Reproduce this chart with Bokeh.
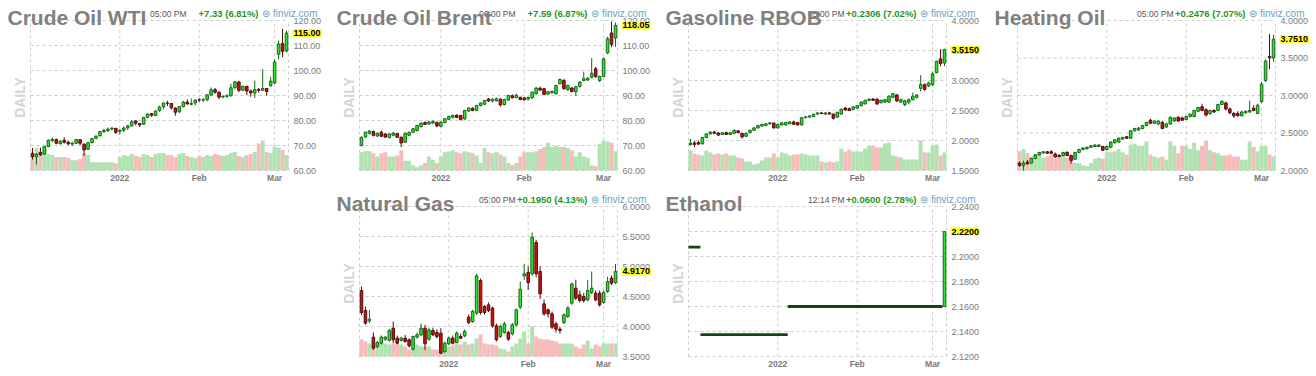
import math
import pandas as pd
from bokeh.plotting import figure
from bokeh.layouts import row, column, Spacer
from bokeh.models import Range1d, FixedTicker, NumeralTickFormatter, Label, ColumnDataSource
from bokeh.embed import file_html
from bokeh.resources import INLINE

# ---------------- dates (trading days) ----------------
nymex_dates = [d for d in pd.bdate_range("2021-12-01", "2022-03-04")
               if d.strftime("%Y-%m-%d") not in ("2021-12-24", "2022-01-17", "2022-02-21")]
ice_dates = [d for d in pd.bdate_range("2021-12-02", "2022-03-04")
             if d.strftime("%Y-%m-%d") not in ("2021-12-27", "2021-12-28")]

# ---------------- Crude Oil WTI ----------------
wti_open = [66.9, 65.5, 67.3, 66.6, 69.6, 72.0, 72.4, 70.8, 72.1, 71.3,
            70.6, 70.9, 72.3, 70.5, 68.5, 71.2, 72.9, 73.9, 75.6, 76.0,
            76.6, 76.9, 75.7, 76.1, 77.1, 77.9, 79.8, 78.8, 78.5, 81.3,
            82.7, 82.0, 84.0, 85.5, 87.0, 86.8, 85.0, 83.5, 85.6, 87.4,
            86.5, 87.0, 88.3, 88.2, 88.3, 90.2, 92.3, 91.3, 89.4, 89.7,
            89.9, 93.2, 95.4, 92.1, 93.6, 91.8, 91.0, 92.4, 92.1, 92.8,
            94.0, 95.0, 106.5, 110.8, 107.8]
wti_high = [69.0, 67.0, 69.2, 69.8, 72.4, 73.2, 72.8, 72.2, 73.3, 72.0,
            71.6, 72.6, 72.6, 70.9, 71.5, 73.0, 73.9, 75.8, 76.7, 77.2,
            77.3, 77.0, 76.5, 77.6, 78.2, 80.2, 80.1, 79.0, 81.5, 82.8,
            83.0, 84.0, 86.0, 87.1, 87.9, 86.9, 85.2, 85.8, 87.9, 88.5,
            88.8, 88.5, 88.9, 89.0, 90.4, 93.2, 93.0, 91.7, 90.0, 90.5,
            94.7, 95.8, 95.9, 94.0, 94.0, 92.4, 96.0, 93.0, 100.5, 93.0,
            97.5, 104.5, 112.0, 116.6, 116.0]
wti_low = [64.4, 62.4, 65.8, 66.2, 69.3, 71.3, 70.5, 70.3, 70.8, 70.1,
           69.8, 70.6, 70.2, 65.8, 68.2, 70.8, 72.5, 73.6, 75.0, 75.4,
           76.0, 74.7, 74.3, 75.4, 76.2, 77.6, 78.1, 77.4, 78.3, 80.9,
           81.5, 81.8, 83.5, 84.5, 85.8, 84.4, 81.9, 83.0, 85.2, 86.5,
           86.0, 86.0, 87.4, 87.4, 87.7, 89.9, 90.7, 88.5, 88.9, 89.0,
           89.6, 92.5, 91.3, 91.8, 90.2, 89.5, 89.0, 91.2, 92.0, 90.0,
           93.5, 94.6, 104.5, 105.4, 107.2]
wti_close = [65.6, 66.5, 66.3, 69.5, 72.1, 72.4, 70.9, 71.7, 71.3, 70.7,
             70.9, 72.4, 70.9, 68.2, 71.1, 72.8, 73.8, 75.6, 76.0, 76.6,
             77.0, 75.2, 76.1, 77.0, 77.9, 79.5, 78.9, 78.2, 81.2, 82.6,
             82.1, 83.8, 85.4, 87.0, 86.9, 85.1, 83.3, 85.6, 87.35, 86.6,
             86.8, 88.15, 88.2, 88.26, 90.27, 92.31, 91.32, 89.36, 89.66, 89.88,
             93.10, 95.46, 92.07, 93.66, 91.76, 91.07, 92.35, 92.10, 92.81, 91.59,
             95.72, 103.41, 110.60, 107.67, 115.00]
wti_vol = [300, 440, 360, 500, 320, 300, 260, 260, 260, 240,
           200, 200, 220, 340, 300, 160, 160, 160, 160, 160,
           160, 140, 260, 300, 280, 320, 280, 260, 320, 300,
           260, 320, 340, 340, 300, 300, 260, 320, 340, 280,
           260, 240, 280, 260, 300, 280, 320, 300, 280, 300,
           340, 360, 280, 260, 300, 320, 360, 520, 580, 360,
           340, 460, 440, 400, 300]

# ---------------- Crude Oil Brent ----------------
brent_open = [70.0, 73.5, 74.9, 75.6, 73.8, 75.3, 74.6, 73.2, 74.1, 74.8,
              73.3, 71.3, 74.1, 75.3, 76.0, 77.6, 79.2, 78.6, 79.0, 79.2,
              77.7, 79.2, 80.5, 81.3, 82.1, 82.0, 80.6, 83.8, 84.9, 84.1,
              86.0, 86.5, 88.6, 87.8, 87.9, 88.5, 86.4, 88.2, 89.9, 89.2,
              89.3, 89.0, 88.6, 89.1, 90.7, 92.9, 92.7, 90.6, 91.1, 90.7,
              94.7, 96.0, 92.4, 93.0, 91.5, 93.6, 96.0, 96.2, 97.3, 100.7,
              96.0, 97.6, 107.0, 115.0, 113.0]
brent_high = [73.6, 75.6, 76.2, 76.0, 75.2, 76.0, 75.0, 75.0, 75.4, 75.1,
              73.6, 75.2, 75.6, 77.0, 78.3, 79.3, 79.6, 79.9, 80.0, 79.6,
              79.8, 81.0, 82.0, 82.4, 82.5, 82.3, 84.3, 85.2, 85.3, 86.3,
              87.2, 88.3, 89.0, 88.9, 89.2, 88.9, 88.7, 90.3, 90.4, 90.8,
              89.5, 89.4, 89.6, 91.6, 93.4, 93.6, 93.0, 91.8, 92.0, 94.3,
              96.8, 96.7, 94.4, 93.4, 93.8, 95.8, 99.5, 97.4, 105.0, 101.4,
              98.0, 105.2, 113.5, 119.6, 119.2]
brent_low = [69.6, 73.0, 74.4, 73.6, 73.4, 73.4, 73.0, 72.8, 73.7, 73.0,
             69.3, 71.0, 73.8, 75.0, 75.6, 77.2, 78.2, 78.3, 78.6, 77.3,
             77.3, 78.8, 80.2, 80.8, 80.9, 80.0, 80.3, 83.4, 83.7, 83.9,
             85.6, 86.2, 87.5, 87.2, 87.6, 85.6, 86.0, 87.9, 88.8, 88.9,
             88.1, 88.0, 88.0, 88.6, 90.4, 91.9, 90.1, 90.3, 90.8, 90.4,
             94.4, 92.3, 91.8, 91.2, 89.8, 93.2, 95.7, 95.8, 96.8, 97.0,
             95.4, 97.3, 106.5, 109.3, 109.5]
brent_close = [73.3, 75.3, 75.8, 74.1, 74.9, 73.7, 73.4, 74.6, 75.0, 73.3,
               71.0, 74.9, 75.3, 76.7, 78.0, 78.9, 78.4, 79.4, 79.6, 77.8,
               79.3, 80.7, 81.6, 82.0, 81.2, 80.4, 84.0, 85.0, 84.0, 86.0,
               87.0, 88.0, 87.8, 88.5, 88.7, 86.2, 88.4, 90.0, 89.1, 90.1,
               88.4, 88.3, 89.2, 91.3, 93.0, 92.2, 90.4, 91.5, 91.6, 94.0,
               96.4, 92.7, 94.0, 91.6, 93.5, 95.3, 96.7, 96.9, 98.9, 97.6,
               97.6, 104.7, 112.7, 110.46, 118.05]
brent_vol = [340, 360, 360, 320, 260, 320, 340, 260, 260, 280,
             380, 180, 180, 100, 60, 100, 140, 260, 200, 140,
             260, 340, 360, 380, 340, 320, 360, 340, 320, 280,
             140, 420, 340, 320, 340, 300, 260, 140, 100, 140,
             260, 340, 340, 340, 360, 400, 440, 520, 440, 460,
             440, 440, 420, 380, 260, 340, 260, 240, 100, 80,
             500, 560, 540, 520, 360]

# ---------------- Gasoline RBOB ----------------
gas_open = [1.930, 1.960, 1.965, 1.945, 2.050, 2.110, 2.140, 2.125, 2.100, 2.130,
            2.100, 2.120, 2.160, 2.120, 2.070, 2.130, 2.170, 2.210, 2.240, 2.250,
            2.280, 2.290, 2.210, 2.260, 2.260, 2.280, 2.310, 2.300, 2.260, 2.380,
            2.390, 2.400, 2.440, 2.460, 2.440, 2.460, 2.440, 2.390, 2.440, 2.540,
            2.530, 2.520, 2.540, 2.580, 2.610, 2.670, 2.690, 2.690, 2.630, 2.640,
            2.640, 2.720, 2.760, 2.640, 2.600, 2.640, 2.680, 2.720, 2.870, 2.930,
            2.910, 2.930, 3.130, 3.360, 3.290]
gas_high = [2.030, 1.990, 2.000, 2.060, 2.120, 2.155, 2.160, 2.140, 2.140, 2.150,
            2.140, 2.185, 2.175, 2.130, 2.130, 2.180, 2.220, 2.260, 2.275, 2.290,
            2.300, 2.300, 2.280, 2.300, 2.310, 2.320, 2.330, 2.310, 2.390, 2.400,
            2.420, 2.440, 2.470, 2.470, 2.470, 2.470, 2.450, 2.480, 2.530, 2.560,
            2.550, 2.570, 2.590, 2.650, 2.680, 2.700, 2.710, 2.700, 2.680, 2.690,
            2.750, 2.790, 2.770, 2.700, 2.680, 2.700, 2.800, 2.770, 3.090, 2.950,
            2.980, 3.150, 3.330, 3.520, 3.530]
gas_low = [1.915, 1.890, 1.930, 1.935, 2.040, 2.100, 2.110, 2.080, 2.090, 2.090,
           2.090, 2.110, 2.120, 2.030, 2.060, 2.120, 2.160, 2.200, 2.230, 2.240,
           2.260, 2.200, 2.200, 2.250, 2.250, 2.270, 2.260, 2.250, 2.250, 2.370,
           2.380, 2.390, 2.430, 2.440, 2.430, 2.435, 2.350, 2.380, 2.430, 2.500,
           2.490, 2.510, 2.530, 2.570, 2.600, 2.650, 2.660, 2.590, 2.620, 2.630,
           2.630, 2.710, 2.640, 2.630, 2.570, 2.600, 2.670, 2.700, 2.820, 2.830,
           2.890, 2.910, 3.120, 3.240, 3.240]
gas_close = [1.955, 1.935, 1.940, 2.050, 2.110, 2.140, 2.120, 2.090, 2.130, 2.100,
             2.130, 2.170, 2.130, 2.060, 2.120, 2.170, 2.210, 2.250, 2.270, 2.280,
             2.295, 2.210, 2.270, 2.295, 2.300, 2.310, 2.270, 2.260, 2.380, 2.395,
             2.410, 2.440, 2.460, 2.450, 2.460, 2.440, 2.370, 2.470, 2.520, 2.510,
             2.500, 2.560, 2.580, 2.640, 2.670, 2.690, 2.670, 2.610, 2.670, 2.680,
             2.740, 2.780, 2.660, 2.680, 2.660, 2.680, 2.740, 2.760, 2.930, 2.850,
             2.960, 3.110, 3.320, 3.2844, 3.5150]
gas_vol = [100, 85, 80, 75, 100, 90, 80, 85, 80, 85,
           75, 75, 65, 60, 45, 45, 30, 35, 50, 65,
           65, 85, 65, 90, 85, 75, 80, 80, 85, 80,
           75, 75, 75, 45, 40, 45, 40, 45, 110, 95,
           105, 95, 95, 95, 110, 125, 125, 115, 115, 135,
           140, 75, 70, 65, 55, 55, 55, 55, 150, 90,
           90, 125, 130, 75, 90]

# ---------------- Heating Oil ----------------
ho_open = [2.097, 2.070, 2.110, 2.100, 2.160, 2.210, 2.235, 2.250, 2.250, 2.220,
           2.200, 2.200, 2.240, 2.200, 2.150, 2.240, 2.280, 2.290, 2.310, 2.320,
           2.320, 2.320, 2.280, 2.310, 2.370, 2.380, 2.420, 2.450, 2.430, 2.530,
           2.540, 2.560, 2.600, 2.670, 2.630, 2.620, 2.640, 2.580, 2.620, 2.660,
           2.710, 2.700, 2.680, 2.720, 2.720, 2.790, 2.850, 2.810, 2.760, 2.800,
           2.800, 2.880, 2.900, 2.820, 2.760, 2.760, 2.730, 2.770, 2.780, 2.830,
           2.760, 2.920, 3.200, 3.520, 3.500]
ho_high = [2.120, 2.130, 2.140, 2.170, 2.220, 2.250, 2.260, 2.260, 2.270, 2.240,
           2.220, 2.250, 2.260, 2.210, 2.250, 2.290, 2.310, 2.320, 2.340, 2.350,
           2.350, 2.330, 2.330, 2.390, 2.420, 2.440, 2.450, 2.460, 2.540, 2.570,
           2.580, 2.610, 2.650, 2.690, 2.670, 2.670, 2.660, 2.640, 2.720, 2.710,
           2.720, 2.720, 2.730, 2.760, 2.810, 2.850, 2.890, 2.830, 2.810, 2.820,
           2.890, 2.940, 2.920, 2.840, 2.780, 2.790, 2.800, 2.800, 2.930, 2.870,
           2.890, 3.180, 3.480, 3.820, 3.810]
ho_low = [2.050, 2.000, 2.080, 2.090, 2.150, 2.200, 2.220, 2.220, 2.220, 2.170,
          2.180, 2.190, 2.190, 2.090, 2.140, 2.230, 2.270, 2.280, 2.300, 2.310,
          2.310, 2.260, 2.270, 2.300, 2.360, 2.370, 2.410, 2.420, 2.420, 2.520,
          2.530, 2.550, 2.590, 2.620, 2.620, 2.610, 2.550, 2.570, 2.610, 2.650,
          2.650, 2.660, 2.670, 2.710, 2.710, 2.780, 2.790, 2.720, 2.740, 2.770,
          2.790, 2.870, 2.800, 2.750, 2.700, 2.720, 2.720, 2.760, 2.770, 2.790,
          2.750, 2.900, 3.180, 3.350, 3.450]
ho_close = [2.067, 2.100, 2.090, 2.160, 2.210, 2.240, 2.250, 2.230, 2.230, 2.180,
            2.185, 2.240, 2.200, 2.130, 2.240, 2.280, 2.300, 2.310, 2.330, 2.340,
            2.340, 2.270, 2.320, 2.380, 2.410, 2.430, 2.440, 2.430, 2.530, 2.560,
            2.565, 2.600, 2.640, 2.630, 2.660, 2.660, 2.560, 2.620, 2.710, 2.700,
            2.660, 2.670, 2.720, 2.750, 2.800, 2.840, 2.800, 2.740, 2.800, 2.780,
            2.880, 2.920, 2.820, 2.770, 2.730, 2.730, 2.780, 2.790, 2.800, 2.800,
            2.870, 3.150, 3.460, 3.5034, 3.7510]
ho_vol = [36, 40, 32, 26, 30, 34, 24, 26, 30, 22,
          26, 28, 24, 16, 14, 14, 10, 8, 14, 22,
          24, 22, 34, 34, 36, 40, 34, 30, 48, 50,
          46, 46, 54, 30, 26, 24, 26, 20, 54, 46,
          32, 46, 46, 40, 52, 38, 46, 56, 38, 34,
          32, 28, 28, 30, 26, 26, 20, 20, 54, 44,
          36, 46, 46, 30, 26]

# ---------------- Natural Gas ----------------
ng_open = [4.600, 4.267, 4.094, 3.822, 3.667, 3.722, 3.789, 3.767, 3.972, 3.806,
           3.767, 3.806, 3.778, 3.622, 3.822, 3.861, 3.972, 3.789, 3.933, 3.900,
           3.889, 3.583, 3.711, 3.806, 3.733, 3.833, 3.844, 4.156, 4.083, 4.222,
           4.767, 4.333, 4.361, 4.306, 4.011, 3.833, 3.900, 3.900, 3.878, 4.028,
           4.322, 4.844, 4.900, 4.878, 5.400, 4.917, 4.378, 4.278, 4.211, 4.044,
           3.956, 4.067, 4.167, 4.389, 4.639, 4.528, 4.500, 4.444, 4.567, 4.556,
           4.556, 4.400, 4.583, 4.806, 4.733]
ng_high = [4.667, 4.333, 4.278, 3.900, 3.760, 3.850, 3.840, 3.960, 4.083, 3.850,
           3.830, 3.860, 3.800, 3.850, 3.900, 4.050, 4.028, 3.980, 3.980, 3.950,
           3.972, 3.750, 3.830, 3.850, 3.920, 3.880, 3.950, 4.200, 4.280, 4.878,
           4.800, 4.360, 4.400, 4.330, 4.050, 4.030, 4.080, 3.930, 4.060, 4.300,
           4.750, 5.044, 5.000, 5.567, 5.444, 5.000, 4.450, 4.300, 4.250, 4.080,
           3.990, 4.220, 4.340, 4.730, 4.780, 4.600, 4.560, 4.778, 4.917, 4.600,
           4.600, 4.600, 4.830, 4.850, 5.044]
ng_low = [4.194, 4.028, 4.056, 3.611, 3.640, 3.700, 3.760, 3.750, 3.722, 3.700,
          3.750, 3.730, 3.650, 3.600, 3.800, 3.840, 3.611, 3.760, 3.840, 3.800,
          3.544, 3.560, 3.690, 3.700, 3.720, 3.790, 3.820, 4.040, 4.060, 4.194,
          4.200, 4.200, 4.240, 3.980, 3.750, 3.810, 3.880, 3.760, 3.850, 4.000,
          4.290, 4.778, 4.611, 4.844, 4.822, 4.456, 4.180, 4.150, 3.960, 3.900,
          3.880, 4.040, 4.140, 4.360, 4.440, 4.400, 4.400, 4.420, 4.540, 4.420,
          4.330, 4.380, 4.560, 4.690, 4.711]
ng_close = [4.233, 4.056, 4.122, 3.639, 3.733, 3.822, 3.822, 3.933, 3.778, 3.722,
            3.806, 3.750, 3.678, 3.833, 3.861, 3.972, 3.711, 3.944, 3.861, 3.833,
            3.556, 3.722, 3.806, 3.722, 3.889, 3.806, 3.917, 4.067, 4.250, 4.844,
            4.233, 4.233, 4.267, 4.011, 3.778, 4.000, 4.044, 3.789, 4.028, 4.278,
            4.622, 4.878, 4.733, 5.489, 4.878, 4.544, 4.211, 4.211, 3.989, 3.956,
            3.933, 4.194, 4.306, 4.711, 4.472, 4.433, 4.433, 4.600, 4.639, 4.444,
            4.361, 4.567, 4.750, 4.722, 4.917]
ng_vol = [170, 150, 130, 110, 130, 140, 130, 120, 130, 120,
          120, 100, 70, 80, 120, 100, 100, 100, 70, 70,
          50, 70, 100, 110, 130, 120, 150, 120, 130, 180,
          220, 130, 120, 120, 110, 80, 70, 50, 100, 130,
          180, 250, 130, 300, 200, 180, 170, 170, 160, 150,
          130, 130, 130, 130, 100, 80, 120, 160, 80, 120,
          100, 130, 130, 130, 130]

# ---------------- Ethanol ----------------
eth_open = [2.2075, 2.2075, 2.2075, 2.1375, 2.1375, 2.1375, 2.1375, 2.1375, 2.1375, 2.1375,
            2.1375, 2.1375, 2.1375, 2.1375, 2.1375, 2.1375, 2.1375, 2.1375, 2.1375, 2.1375,
            2.1375, 2.1375, 2.1375, 2.1375, 2.1375, 2.16, 2.16, 2.16, 2.16, 2.16,
            2.16, 2.16, 2.16, 2.16, 2.16, 2.16, 2.16, 2.16, 2.16, 2.16,
            2.16, 2.16, 2.16, 2.16, 2.16, 2.16, 2.16, 2.16, 2.16, 2.16,
            2.16, 2.16, 2.16, 2.16, 2.16, 2.16, 2.16, 2.16, 2.16, 2.16,
            2.16, 2.16, 2.16, 2.16, 2.16]
eth_close = [2.2075, 2.2075, 2.2075, 2.1375, 2.1375, 2.1375, 2.1375, 2.1375, 2.1375, 2.1375,
             2.1375, 2.1375, 2.1375, 2.1375, 2.1375, 2.1375, 2.1375, 2.1375, 2.1375, 2.1375,
             2.1375, 2.1375, 2.1375, 2.1375, 2.1375, 2.16, 2.16, 2.16, 2.16, 2.16,
             2.16, 2.16, 2.16, 2.16, 2.16, 2.16, 2.16, 2.16, 2.16, 2.16,
             2.16, 2.16, 2.16, 2.16, 2.16, 2.16, 2.16, 2.16, 2.16, 2.16,
             2.16, 2.16, 2.16, 2.16, 2.16, 2.16, 2.16, 2.16, 2.16, 2.16,
             2.16, 2.16, 2.16, 2.16, 2.22]
eth_high = [max(a, b) for a, b in zip(eth_open, eth_close)]
eth_low = [min(a, b) for a, b in zip(eth_open, eth_close)]

# ---------------- axis ticks ----------------
oil_ticks = [60, 70, 80, 90, 100, 110, 120]
gas_ticks = [1.5, 2.0, 2.5, 3.0, 3.5, 4.0]
ho_ticks = [2.0, 2.5, 3.0, 3.5, 4.0]
ng_ticks = [3.5, 4.0, 4.5, 5.0, 5.5, 6.0]
eth_ticks = [2.12, 2.14, 2.16, 2.18, 2.20, 2.22, 2.24]

# ---------------- styling ----------------
FONT = "Liberation Sans"
UP_FILL, UP_EDGE = "#2fe62f", "#166816"
DN_FILL, DN_EDGE = "#d01010", "#520c0c"
VOL_UP, VOL_DN = "#b1e2b1", "#f6bcbc"
GRID = "#cccccc"
PW, PH = 258, 150   # size of the price area inside each panel (px)
BL, BT = 30, 20     # offset of the price area inside each panel (px)


def build(name, dates, o, h, l, c, v, yticks, dec, time_txt, W, H):
    n = len(c)
    assert len(o) == n and len(h) == n and len(l) == n and len(dates) == n, name
    if v is not None:
        assert len(v) == n, name
    up = [ci >= oi for oi, ci in zip(o, c)]
    doji = [abs(ci - oi) < 1e-9 for oi, ci in zip(o, c)]
    data = dict(
        x=list(range(n)), high=h, low=l,
        top=[max(a, b) for a, b in zip(o, c)],
        bot=[min(a, b) for a, b in zip(o, c)],
        fill=[UP_FILL if u else DN_FILL for u in up],
        edge=[UP_EDGE if u else DN_EDGE for u in up],
        vcol=[VOL_UP if u else VOL_DN for u in up],
    )
    if v is not None:
        data["vol"] = v
    src = ColumnDataSource(data)

    # runs of consecutive flat (doji) days at the same price -> one continuous bar
    runs = []
    for i in range(n):
        if not doji[i]:
            continue
        if runs and runs[-1][1] == i - 1 and abs(runs[-1][2] - c[i]) < 1e-9:
            runs[-1][1] = i
        else:
            runs.append([i, i, c[i]])
    dsrc = ColumnDataSource(dict(xa=[r[0] - 0.5 for r in runs], xb=[r[1] + 0.5 for r in runs],
                                 y=[r[2] for r in runs]))

    ylo, yhi = yticks[0], yticks[-1]
    x0, x1 = -0.5, n - 0.5
    xu = n / PW
    yu = (yhi - ylo) / PH
    xr = Range1d(x0 - BL * xu, x1 + (W - BL - PW) * xu)
    yr = Range1d(ylo - (H - BT - PH) * yu, yhi + BT * yu)

    p = figure(width=W, height=H, x_range=xr, y_range=yr, y_axis_location="right",
               toolbar_location=None, output_backend="svg", title=None,
               min_border=0, min_border_left=0, min_border_right=0,
               min_border_top=0, min_border_bottom=0,
               background_fill_color="white", border_fill_color="white")
    p.outline_line_color = None
    p.xgrid.visible = False
    p.ygrid.visible = False

    # month ticks
    mt = [i for i in range(1, n) if dates[i].month != dates[i - 1].month]
    mlab = {i: (str(dates[i].year) if dates[i].month == 1 else dates[i].strftime("%b")) for i in mt}
    p.xaxis.ticker = FixedTicker(ticks=mt, minor_ticks=[])
    p.xaxis.major_label_overrides = mlab
    p.yaxis.ticker = FixedTicker(ticks=yticks, minor_ticks=[])
    p.yaxis.formatter = NumeralTickFormatter(format="0." + "0" * dec)
    p.xaxis.fixed_location = ylo
    p.yaxis.fixed_location = x1
    for ax in (p.xaxis, p.yaxis):
        ax.axis_line_color = None
        ax.major_tick_line_color = None
        ax.minor_tick_line_color = None
        ax.major_tick_out = 0
        ax.major_tick_in = 0
        ax.major_label_text_font = FONT
        ax.major_label_text_color = "#7a7a7a"
    p.yaxis.major_label_text_font_size = "9px"
    p.yaxis.major_label_standoff = 5
    p.xaxis.major_label_text_font_size = "8.5px"
    p.xaxis.major_label_text_font_style = "bold"
    p.xaxis.major_label_standoff = 2

    # dashed grid limited to the price area
    gx = [x0] + mt + [x1]
    p.segment(x0=gx, y0=[ylo] * len(gx), x1=gx, y1=[yhi] * len(gx),
              line_color=GRID, line_dash="3 3", line_width=1)
    p.segment(x0=[x0] * len(yticks), y0=yticks, x1=[x1] * len(yticks), y1=yticks,
              line_color=GRID, line_dash="3 3", line_width=1)

    # volume
    if v is not None:
        vu = max(v) * 5 / PH
        p.extra_y_ranges = {"vol": Range1d(-(H - BT - PH) * vu, (BT + PH) * vu)}
        p.vbar(x="x", top="vol", bottom=0, width=1.0, y_range_name="vol",
               fill_color="vcol", line_color=None, source=src)
    # candles
    p.segment(x0="x", y0="low", x1="x", y1="high", line_color="edge", line_width=1, source=src)
    p.vbar(x="x", width=0.64, top="top", bottom="bot", fill_color="fill",
           line_color="edge", line_width=1, source=src)
    if runs:
        p.segment(x0="xa", y0="y", x1="xb", y1="y", line_color="#0b4a0b", line_width=2.8,
                  line_cap="butt", source=dsrc)

    # texts
    chg = c[-1] - c[-2]
    pct = chg / c[-2] * 100
    chg_txt = "%s%.*f (%.2f%%)" % ("+" if chg >= 0 else "", dec, chg, pct)
    last_txt = "%.*f" % (dec, c[-1])

    p.add_layout(Label(x=x0, y=yhi, x_offset=-11, y_offset=-77, text="DAILY", angle=math.pi / 2,
                       text_align="center", text_baseline="middle", text_font=FONT,
                       text_font_style="bold", text_font_size="14px", text_color="#d4d4d4"))
    p.add_layout(Label(x=x1, y=yhi, x_offset=-102, y_offset=7, text=time_txt, text_align="right",
                       text_baseline="middle", text_font=FONT, text_font_size="8.5px",
                       text_color="#555555"))
    p.add_layout(Label(x=x1, y=yhi, x_offset=-30, y_offset=7, text=chg_txt, text_align="right",
                       text_baseline="middle", text_font=FONT, text_font_style="bold",
                       text_font_size="9.5px", text_color="#1e961e"))
    p.add_layout(Label(x=x1, y=yhi, x_offset=29, y_offset=7.5, text="\u229c finviz.com",
                       text_align="right", text_baseline="middle", text_font=FONT,
                       text_font_size="10px", text_color="#6d9fc0"))
    p.add_layout(Label(x=x0, y=yhi, x_offset=-23, y_offset=3, text=name, text_align="left",
                       text_baseline="middle", text_font=FONT, text_font_style="bold",
                       text_font_size="21px", text_color="#808080"))
    p.add_layout(Label(x=x1, y=c[-1], x_offset=4, text=last_txt, text_align="left",
                       text_baseline="middle", text_font=FONT, text_font_style="bold",
                       text_font_size="9px", text_color="#000000",
                       background_fill_color="#ffff33", padding=1))
    return p


p1 = build("Crude Oil WTI", nymex_dates, wti_open, wti_high, wti_low, wti_close, wti_vol,
           oil_ticks, 2, "05:00 PM", 329, 186)
p2 = build("Crude Oil Brent", ice_dates, brent_open, brent_high, brent_low, brent_close, brent_vol,
           oil_ticks, 2, "06:00 PM", 329, 186)
p3 = build("Gasoline RBOB", nymex_dates, gas_open, gas_high, gas_low, gas_close, gas_vol,
           gas_ticks, 4, "05:00 PM", 329, 186)
p4 = build("Heating Oil", nymex_dates, ho_open, ho_high, ho_low, ho_close, ho_vol,
           ho_ticks, 4, "05:00 PM", 328, 186)
p5 = build("Natural Gas", nymex_dates, ng_open, ng_high, ng_low, ng_close, ng_vol,
           ng_ticks, 4, "05:00 PM", 329, 186)
p6 = build("Ethanol", nymex_dates, eth_open, eth_high, eth_low, eth_close, None,
           eth_ticks, 4, "12:14 PM", 329, 186)

layout = column(row(p1, p2, p3, p4),
                row(Spacer(width=329, height=186), p5, p6))

open("out.html", "w").write(file_html(layout, INLINE))
